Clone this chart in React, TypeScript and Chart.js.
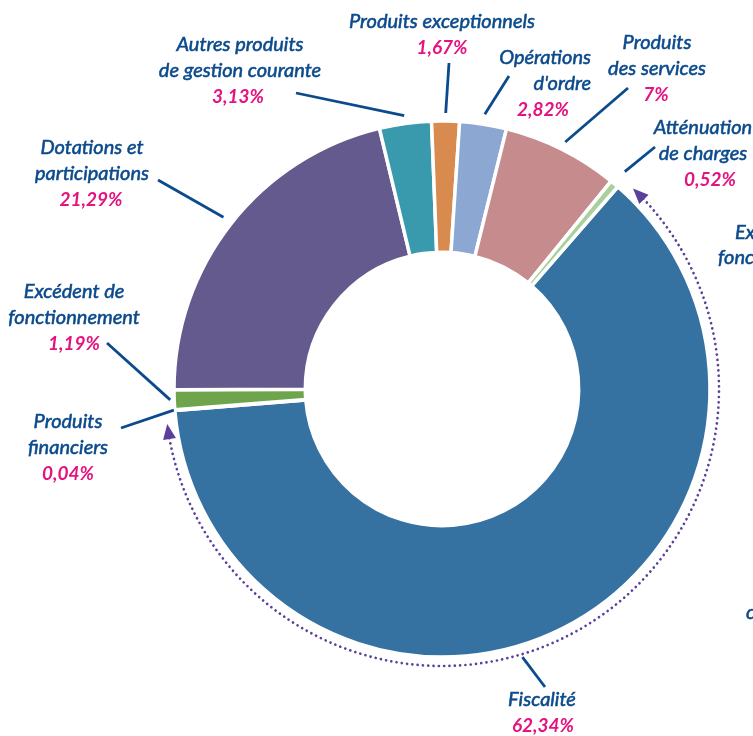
import { useEffect, useRef } from "react";
import { Chart, registerables } from "chart.js";

Chart.register(...registerables);

// ---- data ----
const categories: string[][] = [
  ["Fiscalité"],
  ["Produits", "financiers"],
  ["Excédent de", "fonctionnement"],
  ["Dotations et", "participations"],
  ["Autres produits", "de gestion courante"],
  ["Produits exceptionnels"],
  ["Opérations", "d'ordre"],
  ["Produits", "des services"],
  ["Atténuation", "de charges"],
];
const values: number[] = [62.34, 0.04, 1.19, 21.29, 3.13, 1.67, 2.82, 7, 0.52];
const colors: string[] = [
  "#3571a1",
  "#d9cfc6",
  "#6ea54c",
  "#645a8e",
  "#3a9aad",
  "#d98a4f",
  "#8ba7d2",
  "#c58b8d",
  "#a9d09b",
];
// partially visible labels of the neighbouring chart (cut by the right edge)
const sideTexts: string[] = ["Excédent de", "fonctionnement", "c"];

// ---- layout (positions only) ----
type Lay = { x: number; y: number; align: CanvasTextAlign; pctX: number; frac: number; pad: number; end: [number, number] };
const layout: Lay[] = [
  { x: 542, y: 700, align: "center", pctX: 543, frac: 0.545, pad: 12, end: [545, 687] },
  { x: 68, y: 422, align: "center", pctX: 68, frac: 0.5, pad: 1, end: [121, 428] },
  { x: 74, y: 292, align: "center", pctX: 74, frac: 0.5, pad: 4, end: [107, 343] },
  { x: 92, y: 148, align: "center", pctX: 91, frac: 0.5, pad: 10, end: [158, 180] },
  { x: 240, y: 45, align: "center", pctX: 238, frac: 0.5, pad: 8, end: [296, 93] },
  { x: 442, y: 22, align: "center", pctX: 442, frac: 0.5, pad: 8, end: [449, 63] },
  { x: 591, y: 58, align: "right", pctX: 543, frac: 0.5, pad: 10, end: [509, 76] },
  { x: 657, y: 43, align: "center", pctX: 656, frac: 0.5, pad: 8, end: [628, 88] },
  { x: 703, y: 128, align: "center", pctX: 710, frac: 0.5, pad: 16, end: [655, 147] },
];
const sideLayout: [number, number][] = [
  [735, 233],
  [718, 258],
  [746, 613],
];

const LINE_H = 25.8;
const TEXT_BLUE = "#0b4a8c";
const PCT_PINK = "#e4137f";
const ARROW_COLOR = "#5a3f9c";
const LABEL_FONT = "italic 20px Lato, 'Open Sans', sans-serif";
const PCT_FONT = "italic bold 19px Lato, 'Open Sans', sans-serif";

const fmtPct = (v: number) => String(v).replace(".", ",") + "%";

function arrowHead(ctx: CanvasRenderingContext2D, cx: number, cy: number, r: number, baseA: number, tipA: number) {
  const bx = cx + r * Math.cos(baseA);
  const by = cy + r * Math.sin(baseA);
  const tx = cx + r * Math.cos(tipA);
  const ty = cy + r * Math.sin(tipA);
  const dx = tx - bx;
  const dy = ty - by;
  const len = Math.hypot(dx, dy) || 1;
  const nx = -dy / len;
  const ny = dx / len;
  const w = 6.5;
  ctx.beginPath();
  ctx.moveTo(tx, ty);
  ctx.lineTo(bx + nx * w, by + ny * w);
  ctx.lineTo(bx - nx * w, by - ny * w);
  ctx.closePath();
  ctx.fill();
}

function boldText(ctx: CanvasRenderingContext2D, t: string, x: number, y: number) {
  ctx.fillText(t, x, y);
  ctx.strokeText(t, x, y);
}

const annotPlugin = {
  id: "annot",
  afterDraw(chart: any) {
    const ctx: CanvasRenderingContext2D = chart.ctx;
    const meta = chart.getDatasetMeta(0);
    const deg = Math.PI / 180;
    ctx.save();

    // dotted arc with arrows around the first (largest) slice
    const a0 = meta.data[0].getProps(["x", "y", "startAngle", "endAngle", "outerRadius"], true);
    const rr = a0.outerRadius + 9;
    const s = a0.startAngle + 5.6 * deg;
    const e = a0.endAngle - 5.6 * deg;
    ctx.strokeStyle = ARROW_COLOR;
    ctx.fillStyle = ARROW_COLOR;
    ctx.lineWidth = 2.7;
    ctx.lineCap = "round";
    ctx.setLineDash([0.01, 5.3]);
    ctx.beginPath();
    ctx.arc(a0.x, a0.y, rr, s, e);
    ctx.stroke();
    ctx.setLineDash([]);
    arrowHead(ctx, a0.x, a0.y, rr, s + 0.2 * deg, a0.startAngle + 2.6 * deg);
    arrowHead(ctx, a0.x, a0.y, rr, e - 0.2 * deg, a0.endAngle - 2.7 * deg);

    // leader lines and labels
    meta.data.forEach((arc: any, i: number) => {
      const p = arc.getProps(["x", "y", "startAngle", "endAngle", "outerRadius"], true);
      const L = layout[i];
      const a = p.startAngle + (p.endAngle - p.startAngle) * L.frac;
      const r = p.outerRadius + L.pad;
      ctx.strokeStyle = TEXT_BLUE;
      ctx.lineWidth = 2.8;
      ctx.lineCap = "butt";
      ctx.beginPath();
      ctx.moveTo(p.x + Math.cos(a) * r, p.y + Math.sin(a) * r);
      ctx.lineTo(L.end[0], L.end[1]);
      ctx.stroke();

      ctx.textBaseline = "middle";
      ctx.fillStyle = TEXT_BLUE;
      ctx.strokeStyle = TEXT_BLUE;
      ctx.lineWidth = 0.55;
      ctx.font = LABEL_FONT;
      ctx.textAlign = L.align;
      const lines = categories[i];
      lines.forEach((t, k) => boldText(ctx, t, L.x, L.y + k * LINE_H));
      ctx.fillStyle = PCT_PINK;
      ctx.font = PCT_FONT;
      ctx.textAlign = "center";
      ctx.fillText(fmtPct(values[i]), L.pctX, L.y + lines.length * LINE_H);
    });

    // cut-off texts at the right edge
    ctx.fillStyle = TEXT_BLUE;
    ctx.strokeStyle = TEXT_BLUE;
    ctx.lineWidth = 0.55;
    ctx.font = LABEL_FONT;
    ctx.textAlign = "left";
    ctx.textBaseline = "middle";
    sideTexts.forEach((t, k) => boldText(ctx, t, sideLayout[k][0], sideLayout[k][1]));
    ctx.restore();
  },
};

export default function App() {
  const ref = useRef<HTMLCanvasElement>(null);
  useEffect(() => {
    document.body.style.margin = "0";
    const chart = new Chart(ref.current as HTMLCanvasElement, {
      type: "doughnut",
      data: {
        labels: categories.map((c) => c.join(" ")),
        datasets: [
          {
            data: values,
            backgroundColor: colors,
            borderColor: "#ffffff",
            borderWidth: 3.5,
            hoverOffset: 0,
          },
        ],
      },
      options: {
        responsive: false,
        animation: false,
        rotation: 41,
        cutout: "51%",
        radius: 268,
        events: [],
        layout: { padding: { left: 131, top: 42, right: 0, bottom: 0 } },
        plugins: { legend: { display: false }, tooltip: { enabled: false } },
      },
      plugins: [annotPlugin],
    } as any);
    return () => chart.destroy();
  }, []);
  return (
    <div style={{ position: "fixed", left: 0, top: 0, width: 753, height: 736, background: "#ffffff" }}>
      <canvas ref={ref} width={753} height={736} style={{ width: 753, height: 736, display: "block" }} />
    </div>
  );
}
